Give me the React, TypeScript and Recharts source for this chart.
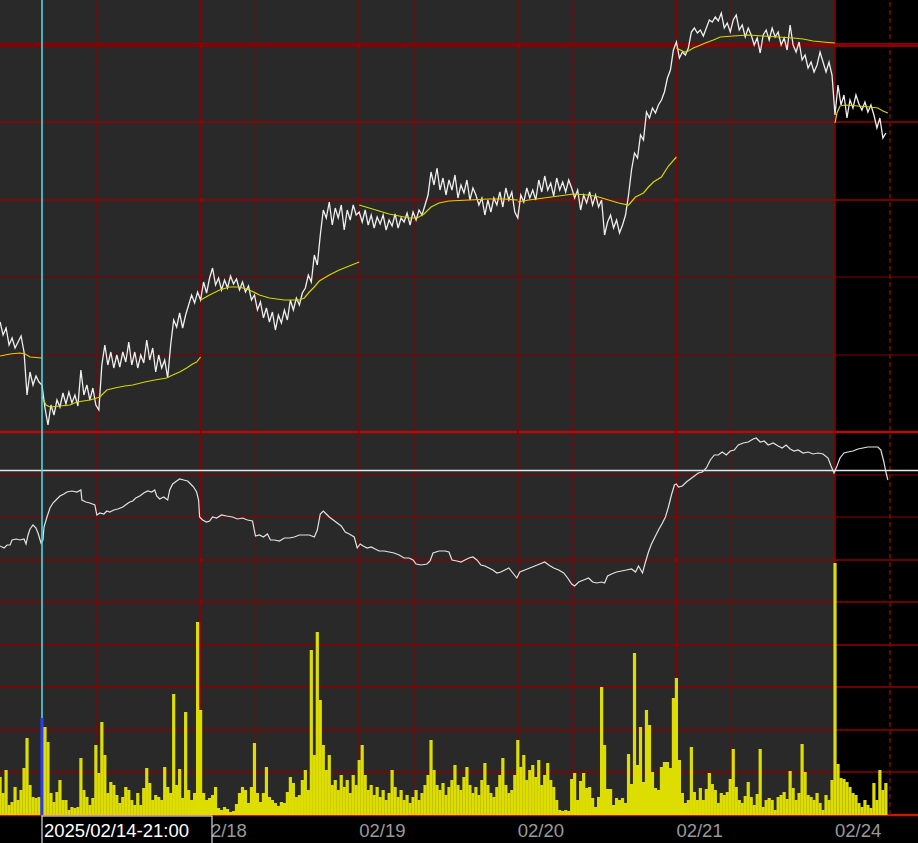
import React from 'react';
import { ComposedChart, Line, Bar, XAxis, YAxis, ReferenceLine, ReferenceArea } from 'recharts';

// time axis: 1 unit = one ~9 min bar, one trading day = 159 bars
const STEP = 3; // price / volume sampled every 3 bars
const X_DOMAIN: [number, number] = [-0.1, 920.2];

const DAY_STARTS = [42, 201, 360, 519, 678, 837];
const SESSION_LINES = [97, 256, 415, 574, 733, 892];
const DAY_LABELS = ['02/17', '02/18', '02/19', '02/20', '02/21', '02/24'];
const CURSOR_T = 42;
const CURSOR_LABEL = '2025/02/14-21:00';
const LIVE_START = 837;

// price (ticks above the panel floor), one value every STEP bars
const PRICE = [
  110, 97, 104, 87, 94, 84, 90, 96, 80, 37,
  60, 47, 56, 50, 47, 24, 7, 27, 17, 32,
  25, 39, 28, 40, 29, 37, 26, 62, 37, 47,
  32, 44, 27, 22, 67, 87, 67, 80, 64, 77,
  65, 80, 70, 90, 67, 80, 64, 77, 69, 92,
  72, 84, 60, 77, 64, 72, 54, 87, 112, 105,
  119, 104, 117, 127, 137, 129, 140, 132, 150, 139,
  154, 164, 147, 154, 142, 152, 144, 156, 148, 153,
  142, 150, 140, 146, 132, 137, 122, 130, 114, 124,
  110, 120, 102, 117, 109, 122, 112, 132, 122, 134,
  127, 139, 144, 157, 150, 177, 167, 197, 222, 214,
  230, 207, 224, 214, 227, 202, 222, 212, 227, 217,
  220, 210, 222, 207, 217, 204, 215, 208, 217, 202,
  212, 206, 218, 204, 214, 210, 219, 207, 220, 212,
  222, 217, 227, 237, 260, 247, 264, 242, 254, 237,
  252, 242, 257, 234, 247, 239, 252, 232, 244, 237,
  227, 234, 217, 232, 220, 234, 227, 240, 225, 244,
  232, 240, 220, 214, 237, 230, 244, 234, 242, 232,
  252, 240, 256, 242, 249, 236, 254, 242, 250, 240,
  252, 244, 234, 242, 222, 237, 229, 240, 227, 237,
  225, 232, 197, 210, 217, 204, 212, 199, 207, 217,
  237, 262, 279, 274, 297, 292, 320, 314, 324, 319,
  327, 332, 340, 354, 362, 382, 390, 374, 380, 377,
  384, 400, 404, 399, 402, 396, 404, 412, 410, 415,
  411, 419, 404, 409, 400, 412, 417, 402, 407, 395,
  404, 397, 387, 394, 379, 397, 402, 392, 404, 395,
  400, 387, 394, 382, 407, 387, 380, 390, 372, 377,
  364, 370, 360, 367, 380, 370, 360, 370, 357, 317,
  347, 327, 337, 314, 332, 324, 337, 328, 322, 330,
  320, 327, 317, 304, 314, 294, 299,
];

const VOLUME = [
  38, 22, 45, 10, 13, 28, 15, 25, 47, 77,
  30, 18, 17, 18, 97, 88, 73, 22, 13, 23,
  35, 15, 15, 5, 8, 7, 8, 57, 25, 18,
  10, 17, 70, 42, 93, 60, 22, 33, 30, 20,
  12, 18, 28, 25, 15, 10, 22, 10, 27, 47,
  32, 15, 20, 18, 15, 48, 28, 22, 121, 30,
  46, 17, 103, 25, 15, 22, 193, 105, 22, 15,
  17, 20, 28, 7, 5, 8, 6, 3, 4, 11,
  22, 28, 25, 12, 28, 72, 22, 13, 22, 48,
  18, 15, 12, 9, 13, 12, 23, 38, 32, 18,
  20, 35, 45, 25, 165, 60, 183, 115, 70, 45,
  60, 30, 35, 25, 40, 28, 35, 22, 40, 30,
  55, 70, 40, 25, 30, 20, 28, 18, 25, 15,
  22, 45, 28, 18, 25, 15, 20, 12, 18, 25,
  15, 22, 30, 40, 75, 45, 30, 25, 32, 20,
  28, 35, 50, 30, 25, 38, 48, 30, 22, 28,
  20, 35, 52, 30, 22, 18, 28, 40, 57, 30,
  22, 25, 40, 75, 48, 60, 35, 45, 50, 38,
  55, 30, 40, 52, 35, 28, 15, 5, 4, 5,
  4, 36, 42, 15, 34, 42, 27, 28, 17, 8,
  18, 128, 70, 26, 26, 10, 17, 15, 17, 12,
  61, 31, 162, 50, 88, 33, 105, 90, 43, 27,
  25, 48, 53, 53, 47, 117, 137, 55, 22, 12,
  15, 68, 23, 15, 27, 15, 26, 42, 31, 25,
  12, 22, 20, 23, 36, 66, 28, 15, 12, 19,
  33, 18, 10, 21, 66, 8, 15, 17, 15, 5,
  18, 20, 23, 16, 44, 27, 15, 22, 71, 43,
  20, 18, 15, 22, 12, 5, 20, 15, 35, 252,
  51, 37, 36, 33, 28, 22, 20, 12, 8, 15,
  10, 7, 32, 15, 45, 25, 32,
];

// oscillator [bar, value]
const OSC = [
  [0, 14], [4, 12], [7, 15], [10, 15], [12, 20], [16, 21], [20, 20], [24, 21], [26, 16], [28, 25],
  [30, 31], [33, 35], [36, 32], [38, 27], [41, 17], [43, 20], [44, 33], [47, 43], [50, 52], [53, 57],
  [57, 61], [60, 64], [64, 66], [67, 68], [72, 69], [77, 68], [81, 70], [82, 60], [86, 58], [90, 57],
  [95, 55], [97, 45], [100, 47], [104, 46], [107, 49], [110, 48], [114, 50], [118, 51], [123, 53], [127, 56],
  [130, 58], [133, 59], [136, 62], [140, 64], [144, 67], [148, 69], [152, 68], [155, 70], [157, 64], [160, 61],
  [164, 63], [168, 60], [170, 70], [173, 76], [177, 79], [180, 81], [184, 80], [188, 79], [191, 76], [194, 73],
  [197, 68], [199, 60], [200, 43], [203, 40], [207, 38], [210, 39], [213, 43], [217, 42], [222, 45], [227, 44],
  [233, 43], [238, 41], [243, 42], [248, 40], [253, 39], [256, 24], [260, 25], [264, 23], [268, 26], [271, 20],
  [275, 20], [280, 19], [285, 22], [290, 22], [295, 23], [300, 25], [305, 25], [310, 25], [315, 23], [318, 30],
  [321, 46], [324, 49], [327, 46], [330, 43], [334, 40], [338, 37], [342, 34], [346, 28], [350, 26], [355, 23],
  [358, 12], [361, 16], [364, 14], [368, 12], [372, 13], [376, 11], [380, 9], [385, 9], [390, 8], [395, 7],
  [400, 5], [405, 2], [410, 2], [414, 0], [417, -4], [422, -5], [428, -4], [431, -1], [434, 7], [440, 9],
  [446, 9], [450, 8], [453, 0], [458, -1], [462, -2], [466, 0], [470, 2], [474, 3], [478, 0], [482, -5],
  [486, -6], [490, -8], [494, -10], [498, -13], [502, -12], [506, -10], [510, -8], [514, -13], [518, -18], [521, -12],
  [526, -10], [531, -8], [536, -6], [541, -4], [546, -2], [550, -5], [555, -8], [560, -10], [565, -13], [569, -18],
  [573, -24], [576, -26], [580, -22], [585, -20], [590, -18], [594, -22], [598, -23], [603, -22], [606, -23], [609, -16],
  [613, -14], [618, -12], [623, -11], [628, -10], [633, -9], [637, -12], [640, -6], [644, -13], [647, -2], [650, 8],
  [653, 16], [656, 22], [660, 30], [664, 37], [667, 43], [670, 53], [673, 65], [676, 75], [678, 76], [680, 73],
  [684, 74], [688, 78], [692, 81], [696, 84], [700, 87], [704, 88], [708, 92], [712, 100], [716, 105], [720, 105],
  [724, 108], [728, 105], [732, 109], [736, 110], [740, 115], [745, 117], [750, 118], [755, 121], [758, 122], [762, 118],
  [766, 119], [770, 115], [775, 117], [780, 114], [784, 112], [788, 115], [792, 111], [796, 109], [800, 110], [805, 107],
  [810, 108], [815, 106], [820, 107], [825, 106], [830, 102], [833, 94], [836, 87], [839, 94], [842, 102], [846, 107],
  [850, 108], [855, 109], [860, 111], [865, 112], [870, 113], [875, 113], [880, 113], [883, 110], [886, 98], [888, 88],
  [890, 80],
];

// daily VWAP, reset at every session start [bar, value]
const VWAP_DAYS = [
  [[0, 76], [10, 78], [20, 79], [25, 78], [30, 75], [42, 74]],
  [[42, 35], [46, 27], [50, 25], [60, 26], [70, 27], [77, 30], [90, 32], [100, 35], [107, 42], [115, 44],
    [125, 46], [133, 47], [145, 50], [155, 52], [167, 54], [173, 57], [180, 60], [187, 64], [193, 68], [197, 70], [201, 75]],
  [[201, 132], [210, 137], [220, 142], [230, 145], [240, 145], [250, 142], [260, 137], [270, 134], [285, 132], [300, 132],
    [305, 134], [310, 140], [315, 145], [320, 151], [330, 157], [340, 162], [350, 166], [360, 170]],
  [[360, 227], [370, 224], [380, 221], [390, 218], [400, 216], [410, 214], [418, 214], [425, 218], [432, 225], [440, 229],
    [450, 231], [470, 232], [490, 233], [505, 233], [519, 232]],
  [[519, 230], [530, 232], [545, 234], [560, 236], [575, 238], [590, 237], [600, 235], [610, 232], [620, 229], [630, 227],
    [637, 235], [645, 239], [650, 245], [655, 250], [663, 255], [670, 266], [678, 275]],
  [[678, 384], [682, 382], [686, 380], [690, 381], [695, 384], [700, 386], [707, 389], [715, 392], [722, 395], [735, 396],
    [750, 397], [765, 396], [780, 395], [795, 394], [805, 393], [815, 391], [825, 390], [837, 389]],
  [[837, 309], [839, 319], [842, 326], [847, 327], [860, 326], [872, 325], [880, 324], [885, 321], [890, 319]],
];

const PRICE_DOMAIN: [number, number] = [-383, 432];
const OSC_DOMAIN: [number, number] = [-255, 560];
const VOL_DOMAIN: [number, number] = [0, 815];

const PRICE_GRID = [
  { v: 387, w: 4, c: '#8a0000' },
  { v: 310, w: 1.5, c: '#9a0000' },
  { v: 232, w: 1.5, c: '#9a0000' },
  { v: 155, w: 1, c: '#7c0000' },
  { v: 77, w: 1, c: '#7c0000' },
  { v: 0, w: 2.5, c: '#b40a0a' },
];
const OSC_GRID = [85, 43];
const OSC_BASE = 89.5;
const VOL_GRID = [255, 213, 170, 128, 85, 43];

const YELLOW = '#dddd00';
const CURSOR_BLUE = '#2a3cf0';
const GRID_RED = '#8b0000';

const rows = PRICE.map((p, i) => ({ t: i * STEP, price: p, vol: VOLUME[i] ?? 0 }));
const oscData = OSC.map(([t, o]) => ({ t, o }));
const vwapData = VWAP_DAYS.map((seg) => seg.map(([t, v]) => ({ t, vw: v })));

const FONT = '"Liberation Sans", Arial, sans-serif';

// histogram bars: keep them touching, whatever band size recharts picks
const VolBar = (props: any) => {
  const { x, y, width, height, payload } = props;
  if (!height || height <= 0) return null;
  const cx = x + width / 2;
  return (
    <rect
      x={cx - 1.6}
      y={y}
      width={3.2}
      height={height}
      fill={payload && payload.t === CURSOR_T ? CURSOR_BLUE : YELLOW}
    />
  );
};

const renderTick = (props: any) => {
  const { x, y, payload } = props;
  if (payload.value === CURSOR_T) {
    return (
      <g>
        <rect x={x} y={y + 1} width={170} height={30} fill="#000" stroke="#ffffff" strokeWidth={1} />
        <text x={x + 2} y={y + 22} fill="#ffffff" fontSize={18.5} fontFamily={FONT}>
          {CURSOR_LABEL}
        </text>
      </g>
    );
  }
  const label = DAY_LABELS[DAY_STARTS.indexOf(payload.value)];
  return (
    <text x={x} y={y + 22} fill="#9a9a9a" fontSize={18.5} fontFamily={FONT}>
      {label}
    </text>
  );
};

export default function App() {
  return (
    <div style={{ position: 'absolute', left: 0, top: 0, width: 918, height: 843, background: '#000', overflow: 'hidden' }}>
      <ComposedChart width={918} height={843} data={rows} margin={{ top: 0, right: 0, bottom: 0, left: 0 }}>
        <XAxis
          dataKey="t"
          type="number"
          domain={X_DOMAIN}
          allowDataOverflow
          ticks={[...DAY_STARTS.slice(1), CURSOR_T]}
          interval={0}
          tick={renderTick}
          tickLine={false}
          axisLine={false}
          tickSize={0}
          tickMargin={0}
          height={28}
        />
        <YAxis yAxisId="p" type="number" domain={PRICE_DOMAIN} allowDataOverflow hide />
        <YAxis yAxisId="o" type="number" domain={OSC_DOMAIN} allowDataOverflow hide />
        <YAxis yAxisId="v" type="number" domain={VOL_DOMAIN} allowDataOverflow hide />

        {/* chart background, current session stays black */}
        <ReferenceArea
          yAxisId="p"
          x1={X_DOMAIN[0]}
          x2={LIVE_START}
          y1={PRICE_DOMAIN[0]}
          y2={PRICE_DOMAIN[1]}
          fill="#292929"
          fillOpacity={1}
          stroke="none"
          zIndex={-200}
        />

        {/* horizontal grid */}
        {PRICE_GRID.map((g) => (
          <ReferenceLine key={`pg${g.v}`} yAxisId="p" y={g.v} stroke={g.c} strokeWidth={g.w} zIndex={-150} />
        ))}
        {OSC_GRID.map((v) => (
          <ReferenceLine key={`og${v}`} yAxisId="o" y={v} stroke={GRID_RED} strokeWidth={1.2} zIndex={-150} />
        ))}
        {VOL_GRID.map((v) => (
          <ReferenceLine key={`vg${v}`} yAxisId="v" y={v} stroke={GRID_RED} strokeWidth={1.5} zIndex={-150} />
        ))}
        <ReferenceLine yAxisId="v" y={0} stroke="#c41a00" strokeWidth={2.5} zIndex={-150} />

        {/* vertical grid */}
        {DAY_STARTS.slice(1).map((t) => (
          <ReferenceLine key={`d${t}`} yAxisId="p" x={t} stroke={GRID_RED} strokeWidth={1.5} zIndex={-150} />
        ))}
        {SESSION_LINES.map((t) => (
          <ReferenceLine
            key={`s${t}`}
            yAxisId="p"
            x={t}
            stroke={GRID_RED}
            strokeWidth={1.5}
            strokeDasharray="5 3"
            zIndex={-150}
          />
        ))}

        <ReferenceLine yAxisId="o" y={OSC_BASE} stroke="#e6e6e6" strokeWidth={1.5} zIndex={-150} />

        <Bar yAxisId="v" dataKey="vol" fill={YELLOW} shape={VolBar} isAnimationActive={false} />

        <Line
          yAxisId="p"
          dataKey="price"
          type="linear"
          stroke="#efefef"
          strokeWidth={1.3}
          dot={false}
          activeDot={false}
          isAnimationActive={false}
        />
        {vwapData.map((seg, i) => (
          <Line
            key={`vw${i}`}
            data={seg}
            yAxisId="p"
            dataKey="vw"
            type="linear"
            stroke="#d6d600"
            strokeWidth={1.2}
            dot={false}
            activeDot={false}
            isAnimationActive={false}
          />
        ))}
        <Line
          data={oscData}
          yAxisId="o"
          dataKey="o"
          type="linear"
          stroke="#e2e2e2"
          strokeWidth={1.2}
          dot={false}
          activeDot={false}
          isAnimationActive={false}
        />

        {/* crosshair */}
        <ReferenceLine
          yAxisId="v"
          segment={[{ x: CURSOR_T, y: 97 }, { x: CURSOR_T, y: VOL_DOMAIN[1] }]}
          stroke="#4fe3f0"
          strokeWidth={1.5}
        />
      </ComposedChart>
    </div>
  );
}
